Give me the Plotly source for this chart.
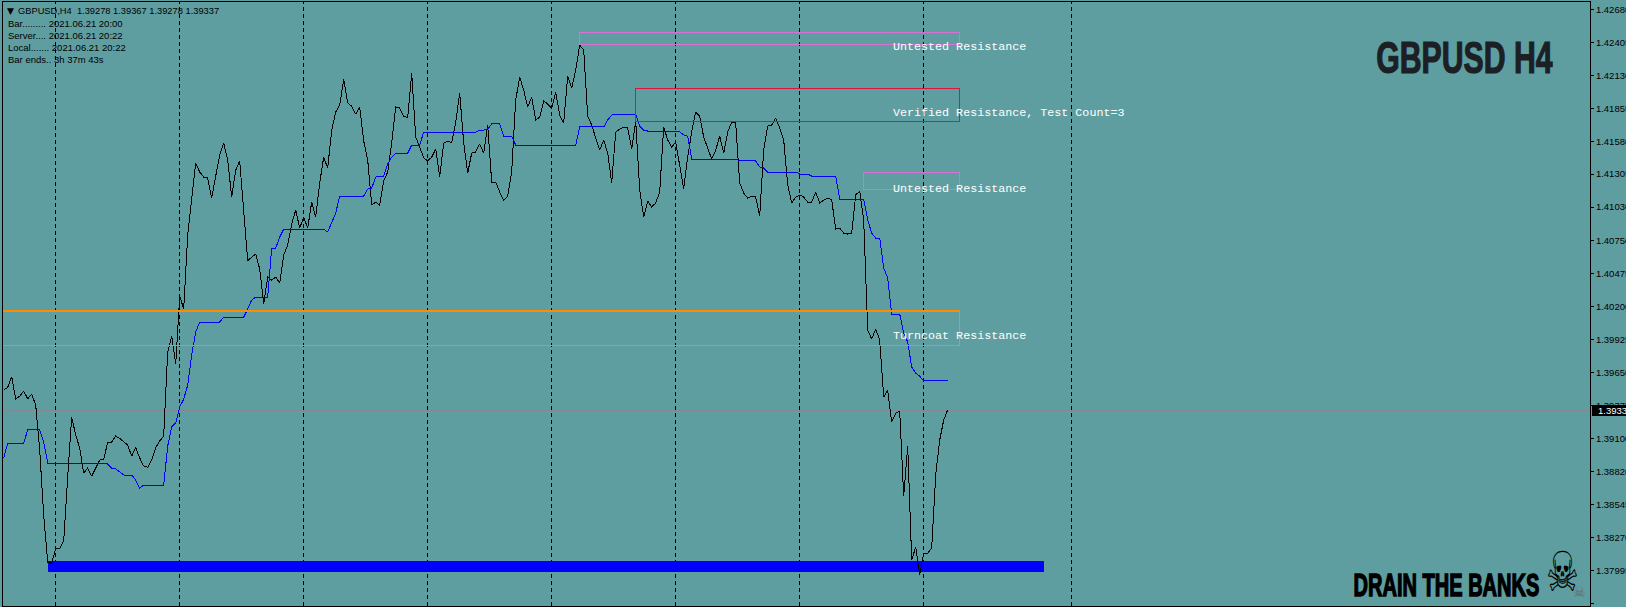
import plotly.graph_objects as go

# Values are price points (1 point = 0.00001), one per H4 bar
close_points = [
139502,139525,139614,139427,139452,139492,139430,139467,139377,139002,
138459,138066,138055,138181,138175,138242,138779,139274,139127,139018,
138809,138851,138784,138851,138918,138926,139064,139068,139118,139098,
139068,139043,138951,139022,138935,138868,138857,138918,139022,139077,
139118,139820,139953,139720,140287,140179,140797,141106,141398,141323,
141281,141273,141106,141289,141465,141565,141423,141114,141339,141415,
140964,140580,140613,140638,140513,140221,140446,140421,140446,140396,
140630,140713,140889,141005,140855,140947,140855,141072,140947,141231,
141448,141356,141673,141824,141882,142099,141899,141874,141807,141866,
141582,141423,141047,141072,141047,141248,141323,141565,141866,141857,
141790,141774,142149,141615,141532,141440,141415,141448,141515,141281,
141565,141582,141565,141740,141982,141565,141314,141481,141490,141557,
141481,141715,141239,141239,141156,141089,141122,141323,141924,142116,
142007,141866,141949,141757,141782,141916,141891,141857,141991,141799,
141732,142124,142024,142174,142383,142341,141790,141715,141607,141506,
141590,141481,141231,141657,141682,141699,141690,141515,141749,141172,
140947,141081,141031,141064,141156,141699,141590,141532,141573,141381,
141181,141448,141657,141824,141790,141615,141523,141431,141506,141623,
141481,141657,141740,141732,141231,141147,141106,141122,141114,140955,
141506,141707,141715,141774,141690,141590,141214,141064,141114,141131,
141114,141072,141072,141156,141064,141089,141106,141089,140847,140855,
140813,140805,140813,141131,141164,140922,140003,139928,140012,139920,
139444,139502,139235,139310,139327,138617,139035,138083,138192,137958,
138141,138141,138183,138793,139085,139252,139337,
]

average_points = (
[138935] + [139060]*5 + [139169]*4 + [139068] + [138893]*4 + [138885]*12 +
[138851,138843,138818] + [138793]*3 + [138751,138684] + [138709]*6 +
[139035,139194,139227,139361,139427,139544,139795,139987] + [140070]*6 +
[140112]*6 + [140179,140254] + [140279]*4 + [140688]*2 + [140780] +
[140847]*11 + [140822,140905,140980] + [141122]*7 + [141181,141189,141281] +
[141289]*2 + [141390,141448] + [141481]*4 + [141548]*3 + [141657]*14 +
[141673]*2 + [141682] + [141724]*3 + [141623]*3 + [141548]*16 + [141699]*7 +
[141757,141799] + [141807]*6 + [141707,141673] + [141665]*8 +
[141657,141632,141623] + [141431]*12 + [141415]*5 + [141365,141356] +
[141323]*8 + [141306]*3 + [141289]*7 + [141097]*7 + [140922,140813] +
[140772]*2 + [140521,140438] + [140137]*3 +
[139978,139903,139695,139644,139619] + [139578]*7
)

separator_bars = [13, 44, 75, 106, 137, 168, 199, 230, 267]

tick_labels = ["1.42680","1.42405","1.42130","1.41855","1.41580","1.41305","1.41030",
               "1.40750","1.40475","1.40200","1.39925","1.39650","1.39375","1.39100",
               "1.38820","1.38545","1.38270","1.37995","1.37720"]

zone_names = ["Untested Resistance", "Verified Resistance, Test Count=3",
              "Untested Resistance", "Turncoat Resistance"]
zone_start = [144, 158, 215, -0.2]
zone_end = [239, 239, 239, 239]
zone_top = [1.42489, 1.42022, 1.41320, 1.40166]
zone_bottom = [1.42389, 1.41743, 1.41178, 1.39876]
zone_label_y = [1.42364, 1.41816, 1.41181, 1.39954]
zone_colors = ["#DA70D6", "#DC143C", "#DA70D6", "#FF8C00"]
zone_label_bar = 221.8

support_start, support_end = 11, 260
support_top, support_bottom = 1.38075, 1.37985
last_price = 1.39330

info_lines = ["Bar......... 2021.06.21 20:00", "Server.... 2021.06.21 20:22",
              "Local....... 2021.06.21 20:22", "Bar ends.. 3h 37m 43s"]
header = "GBPUSD,H4  1.39278 1.39367 1.39278 1.39337"

BG = "#5F9EA0"
W, H = 1626, 607
L, R, T, B = 3, 1590, 2, 606

def px(x):
    return (x - L) / (R - L)

def py(y):
    return (B - y) / (B - T)

bars = list(range(len(close_points)))
fig = go.Figure()
fig.add_trace(go.Scatter(x=bars, y=[v / 1e5 for v in close_points], mode="lines",
                         line=dict(color="#000000", width=1), hoverinfo="skip"))
fig.add_trace(go.Scatter(x=bars, y=[v / 1e5 for v in average_points], mode="lines",
                         line=dict(color="#0000FF", width=1), hoverinfo="skip"))

shapes = []
for b in separator_bars:
    shapes.append(dict(type="line", xref="x", yref="paper", x0=b, x1=b, y0=0, y1=1, layer="below",
                       line=dict(color="#000000", width=1, dash="4px,3px")))
shapes.append(dict(type="line", xref="paper", yref="y", x0=0, x1=1, y0=last_price, y1=last_price,
                   layer="below", line=dict(color="#7F8A94", width=1)))
for s, e, t, b, c in zip(zone_start, zone_end, zone_top, zone_bottom, zone_colors):
    shapes.append(dict(type="rect", xref="x", yref="y", x0=s, x1=e, y0=b, y1=t,
                       line=dict(color=c, width=1), fillcolor="rgba(0,0,0,0)"))
shapes.append(dict(type="line", xref="x", yref="y", x0=zone_start[3], x1=zone_end[3],
                   y0=zone_top[3], y1=zone_top[3], line=dict(color=zone_colors[3], width=2)))
shapes.append(dict(type="rect", xref="x", yref="y", x0=support_start, x1=support_end,
                   y0=support_bottom, y1=support_top, fillcolor="#0000FF",
                   line=dict(width=0), layer="below"))
shapes.append(dict(type="rect", xref="paper", yref="paper", x0=px(1592), x1=px(1626),
                   y0=py(415.7), y1=py(405.3), fillcolor="#000000", line=dict(width=0), layer="above"))

ann = []
for name, y in zip(zone_names, zone_label_y):
    ann.append(dict(x=zone_label_bar, y=y, xref="x", yref="y", text=name, showarrow=False,
                    xanchor="left", yanchor="middle",
                    font=dict(family="Liberation Mono", size=11.7, color="#FFFFFF")))

def note(x, y, text, anchor="left", **font):
    ann.append(dict(x=px(x), y=py(y), xref="paper", yref="paper", text=text, showarrow=False,
                    xanchor=anchor, yanchor="middle", align="left", font=font))

TXT = "Liberation Sans"
note(4.5, 10.5, "▼", family="DejaVu Sans", size=9, color="#000000")
note(16, 10.7, header.replace("  ", "&nbsp;&nbsp;"), family=TXT, size=9.3, color="#000000")
for i, line in enumerate(info_lines):
    note(5.5, 23.7 + 12 * i, line, family=TXT, size=9.5, color="#000000")
note(1464.5, 57.5, "<b>GBPUSD H4</b>", anchor="center", family=TXT, size=44, color="#1C2024")
note(1446.3, 584.5, "<b>DRAIN THE BANKS</b>", anchor="center", family=TXT, size=30.5, color="#000000")
note(1562.5, 572, "☠", anchor="center", family="DejaVu Sans", size=46, color="#000000")
note(1579, 592, "☠", anchor="center", family="DejaVu Sans", size=14, color="#666666")
note(1595.5, 410.6, "1.39337", family=TXT, size=9.5, color="#FFFFFF")

# 11976 px per price unit: range matches the plot's pixel height
y_top = 1.4268 + 7.5 / 11976
y_bottom = 1.3772 - 2.5 / 11976

fig.update_layout(
    width=W, height=H, paper_bgcolor=BG, plot_bgcolor=BG, showlegend=False,
    margin=dict(l=L, r=W - R, t=T, b=H - B, autoexpand=False),
    hovermode=False, shapes=shapes, annotations=ann,
    xaxis=dict(range=[(L - 3.7) / 4, (R - 3.7) / 4], showgrid=False, zeroline=False,
               showticklabels=False, ticks="", showline=True, linecolor="#000000",
               linewidth=1, mirror=True, fixedrange=True),
    yaxis=dict(range=[y_bottom, y_top], side="right", showgrid=False, zeroline=False,
               tickmode="array", tickvals=[float(t) for t in tick_labels], ticktext=tick_labels,
               ticks="outside", ticklen=3, tickcolor="#000000", tickwidth=1,
               tickfont=dict(family=TXT, size=9.5, color="#000000"),
               showline=True, linecolor="#000000", linewidth=1, mirror=True, fixedrange=True),
)

# Page margin removed; logo text condensed (Impact-like in the reference); hard-edged lines as in the reference.
post = """
document.documentElement.style.margin='0';
document.body.style.margin='0';
document.body.style.background='%s';
document.querySelectorAll('.js-line, .shapelayer path').forEach(function(p){
  p.style.shapeRendering='crispEdges';
});
var widths={'GBPUSD H4':[176.7,1.2],'DRAIN THE BANKS':[186,1.4]};
document.querySelectorAll('.annotation-text').forEach(function(t){
  var b=t.getBBox(), cx=b.x+b.width/2, cy=b.y+b.height/2, c=t.textContent, sx=0, sy=1;
  if(widths[c]){
    sx=widths[c][0]/b.width;
    t.style.stroke=t.style.fill; t.style.strokeWidth=widths[c][1]+'px';
  } else if(c==='\\u2620' && t.style.fontSize==='46px'){
    sx=0.8; sy=1.2;
  }
  if(sx) t.setAttribute('transform','translate('+cx+' '+cy+') scale('+sx+' '+sy+') translate('+(-cx)+' '+(-cy)+')');
});
""" % BG
fig.write_html("out.html", config=dict(displayModeBar=False), post_script=post)
